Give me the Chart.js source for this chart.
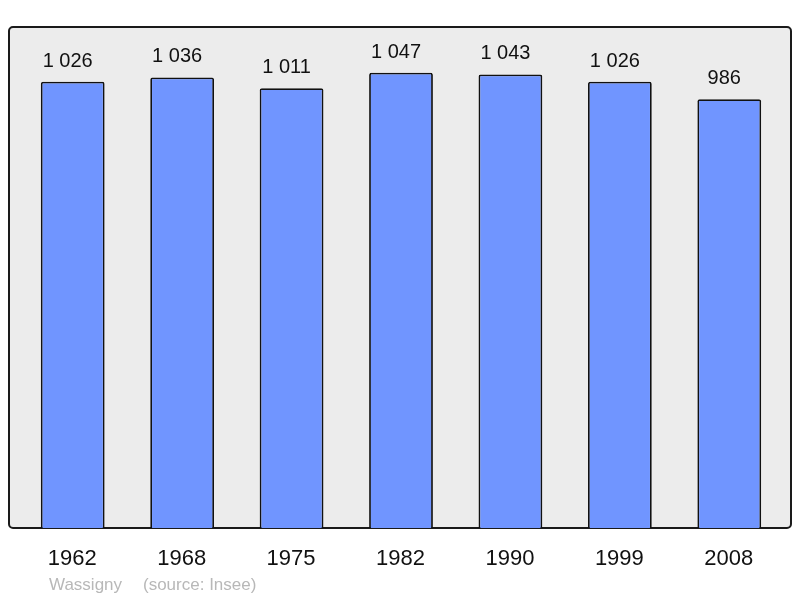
<!DOCTYPE html>
<html>
<head>
<meta charset="utf-8">
<script src="https://cdn.jsdelivr.net/npm/chart.js@4/dist/chart.umd.min.js"></script>
<style>
  html, body { margin: 0; padding: 0; background: #fff; }
  #wrap { width: 800px; height: 598px; }
</style>
</head>
<body>
<div id="wrap"><canvas id="c" width="800" height="598"></canvas></div>
<script>
const years = ['1962', '1968', '1975', '1982', '1990', '1999', '2008'];
const population = [1026, 1036, 1011, 1047, 1043, 1026, 986];
const place = 'Wassigny';
const source = '(source: Insee)';

const FONT = '"Liberation Sans", Arial, sans-serif';

function fmt(v) {
  return String(v).replace(/\B(?=(\d{3})+(?!\d))/g, ' ');
}

// rounded grey frame behind the bars, labels drawn on top
const frame = {
  id: 'frame',
  beforeDraw(chart) {
    const ctx = chart.ctx;
    const x = 9, y = 27, w = 782, h = 501, r = 4;
    ctx.save();
    ctx.beginPath();
    ctx.moveTo(x + r, y);
    ctx.arcTo(x + w, y, x + w, y + h, r);
    ctx.arcTo(x + w, y + h, x, y + h, r);
    ctx.arcTo(x, y + h, x, y, r);
    ctx.arcTo(x, y, x + w, y, r);
    ctx.closePath();
    ctx.fillStyle = '#ececec';
    ctx.fill();
    ctx.lineWidth = 2;
    ctx.strokeStyle = '#1a1a1a';
    ctx.stroke();
    ctx.restore();
  },
  afterDatasetsDraw(chart) {
    const ctx = chart.ctx;
    const xs = chart.scales.x;
    const meta = chart.getDatasetMeta(0);
    ctx.save();
    ctx.textAlign = 'center';
    ctx.textBaseline = 'alphabetic';
    ctx.fillStyle = '#111';
    ctx.font = '20px ' + FONT;
    meta.data.forEach(function(bar, i) {
      ctx.fillText(fmt(population[i]), bar.x - 5, bar.y - 15);
    });
    ctx.font = '22px ' + FONT;
    years.forEach(function(yr, i) {
      ctx.fillText(yr, xs.getPixelForValue(i) - 0.5, 565);
    });
    ctx.textAlign = 'left';
    ctx.fillStyle = '#b8b8b8';
    ctx.font = '17px ' + FONT;
    ctx.fillText(place, 49, 590);
    ctx.fillText(source, 143, 590);
    ctx.restore();
  }
};

new Chart(document.getElementById('c'), {
  type: 'bar',
  data: {
    labels: years,
    datasets: [{
      data: population,
      backgroundColor: '#7095ff',
      borderColor: '#111',
      borderWidth: 1.8,
      borderSkipped: 'bottom',
      borderRadius: 2,
      categoryPercentage: 1,
      barPercentage: 0.583
    }]
  },
  options: {
    responsive: false,
    animation: false,
    devicePixelRatio: 1,
    layout: { padding: { left: 18, right: 16, top: 27, bottom: 70 } },
    plugins: { legend: { display: false }, tooltip: { enabled: false } },
    scales: {
      x: { display: false, offset: true },
      y: { display: false, min: 0, max: 1152 }
    }
  },
  plugins: [frame]
});
</script>
</body>
</html>
